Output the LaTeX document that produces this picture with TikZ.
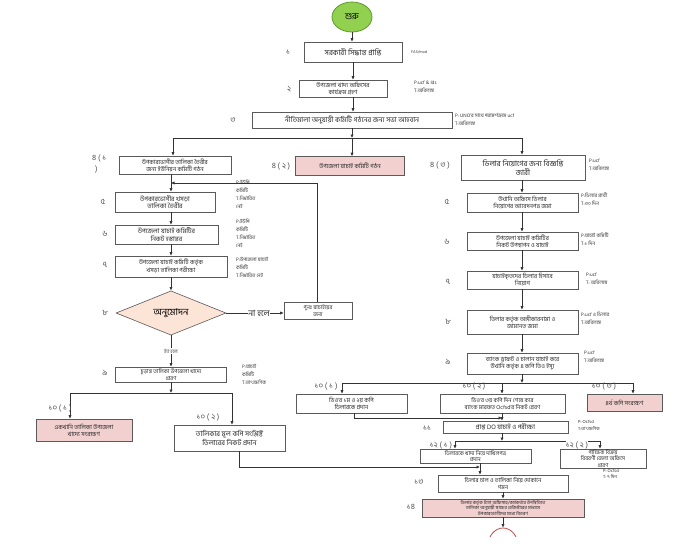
\documentclass[tikz,border=0pt]{standalone}
\usepackage{fontspec}
\newfontfamily\bn[Script=Bengali]{Hind Siliguri}
\usetikzlibrary{arrows.meta,shapes.geometric}
\definecolor{bord}{HTML}{5A5A5A}
\definecolor{pinkf}{HTML}{F2D0D0}
\definecolor{peach}{HTML}{FCE4D6}
\definecolor{grn}{HTML}{92D050}
\definecolor{grnd}{HTML}{5E9A2C}
\definecolor{lbl}{HTML}{505050}
\definecolor{endc}{HTML}{C0504D}
\begin{document}
\begin{tikzpicture}[x=1pt,y=-1pt,
  box/.style={draw=bord, line width=0.6pt, fill=white, align=center, inner sep=0.5pt, text=black!85, font=\bn\fontsize{6}{7}\selectfont},
  pbox/.style={box, fill=pinkf},
  sz/.style 2 args={minimum width=#1, minimum height=#2},
  note/.style={font=\bn\fontsize{5}{8}\selectfont, align=left, anchor=north west, inner sep=0, text=black!80},
  num/.style={font=\bn\fontsize{8}{8}\selectfont, text=lbl, inner sep=0},
  arr/.style={-{Latex[length=3.5pt,width=3.2pt]}, line width=0.6pt, draw=black!80},
  ln/.style={line width=0.6pt, draw=black!80}]
\useasboundingbox (0,0) rectangle (695,557);
\fill[white] (0,0) rectangle (695,557);

% start
\node[ellipse, draw=grnd, fill=grn, line width=0.8pt, minimum width=40, minimum height=30, inner sep=0, font=\bn\fontsize{9}{9}\selectfont] (start) at (352,17) {শুরু};

% top chain
\node[box, sz={98}{20}, font=\bn\fontsize{7.5}{8}\selectfont] (b1) at (353,52) {সরকারী সিদ্ধান্ত প্রাপ্তি};
\node[box, sz={88}{17}] (b2) at (343,88.5) {উপজেলা খাদ্য অফিসের\\কার্যক্রম গ্রহণ};
\node[box, sz={200}{16}, font=\bn\fontsize{7}{8}\selectfont] (b3) at (352,120) {নীতিমালা অনুযায়ী কমিটি গঠনের জন্য সভা আহবান};

\node[box, sz={112}{18}] (b41) at (175,165) {উপকারভোগীর তালিকা তৈরীর\\জন্য ইউনিয়ন কমিটি গঠন};
\node[pbox, sz={109}{19}] (b42) at (350,166) {উপজেলা যাচাই কমিটি গঠন};
\node[box, sz={124}{25}, font=\bn\fontsize{7.5}{9}\selectfont] (b43) at (523,167.5) {ডিলার নিয়োগের জন্য বিজ্ঞপ্তি\\জারী};

% left column
\node[box, sz={100}{20}, font=\bn\fontsize{6.5}{7.5}\selectfont] (b5) at (165,202) {উপকারভোগীর খসড়া\\তালিকা তৈরীর};
\node[box, sz={103}{19}, font=\bn\fontsize{6.5}{7.5}\selectfont] (b6) at (166.5,234.5) {উপজেলা যাচাই কমিটির\\নিকট হস্তান্তর};
\node[box, sz={112}{21}] (b7) at (171,266.5) {উপজেলা যাচাই কমিটি কর্তৃক\\খসড়া তালিকা পরীক্ষা};
\node[diamond, draw=bord, fill=peach, line width=0.6pt, minimum width=110, minimum height=42, inner sep=0, font=\bn\fontsize{9.5}{10}\selectfont] (d8) at (171,313) {অনুমোদন};
\node[font=\bn\fontsize{8.5}{9}\selectfont, inner sep=0, text=black!85] (nh) at (259,313) {না হলে};
\node[box, sz={68}{17}, font=\bn\fontsize{5.5}{6.5}\selectfont] (rb) at (318,310.5) {পুনঃ যাচাইয়ের\\জন্য};
\node[box, sz={111}{15}, font=\bn\fontsize{5.5}{6.3}\selectfont] (b9) at (171,374.5) {চূড়ান্ত তালিকা উপজেলা খাদ্যে\\প্রেরণ};
\node[pbox, sz={96}{22}] (b101) at (84,430) {একখানি তালিকা উপজেলা\\খাদ্যে সংরক্ষণ};
\node[box, sz={111}{26}, font=\bn\fontsize{7}{9}\selectfont] (b102) at (229.5,438) {তালিকার মূল কপি সংশ্লিষ্ট\\ডিলারের নিকট প্রদান};

% right column
\node[box, sz={111}{19}] (b5r) at (522.5,202.5) {উখানি অফিসে ডিলার\\নিয়োগের আবেদনপত্র জমা};
\node[box, sz={111}{18}] (b6r) at (522.5,241) {উপজেলা যাচাই কমিটির\\নিকট উপস্থাপন ও যাচাই};
\node[box, sz={111}{18}] (b7r) at (522.5,280) {যাচাইকৃতদের ডিলার হিসাবে\\নিয়োগ};
\node[box, sz={111}{24}] (b8r) at (522.5,322) {ডিলার কর্তৃক অঙ্গীকারনামা ও\\জামানত জমা};
\node[box, sz={111}{21}] (b9r) at (522.5,363.5) {ব্যাংক ড্রাফট ও চালান যাচাই করে\\উখানি কর্তৃক ৪ কপি ডিও ইস্যু};
\node[box, sz={111}{19}] (b101r) at (351.5,403.5) {ডিও'র ১ম ও ২য় কপি\\ডিলারকে প্রদান};
\node[box, sz={125}{19}, font=\bn\fontsize{5.7}{7}\selectfont] (b102r) at (502.5,403.5) {ডিও'র ৩য় কপি দিন শেষে করে\\ব্যাংক মারফত Ocfsd'র নিকট প্রেরণ};
\node[pbox, sz={75}{17}] (b103) at (624.5,402.5) {৪র্থ কপি সংরক্ষণ};
\node[box, sz={125}{12}, font=\bn\fontsize{6.5}{7}\selectfont] (b11) at (505.5,427) {প্রাপ্ত DO যাচাই ও পরীক্ষা};
\node[box, sz={111}{14}, font=\bn\fontsize{5.5}{6}\selectfont] (b121) at (475.5,456) {ডিলারকে খাদ্য নিয়ে দাখিলপত্র\\প্রদান};
\node[box, sz={86}{19}, font=\bn\fontsize{5.5}{6.5}\selectfont] (b122) at (603,458.5) {পাক্ষিক বিক্রয়\\বিবরণী জেলা অফিসে\\প্রেরণ};
\node[box, sz={130}{17}, font=\bn\fontsize{5.8}{6.8}\selectfont] (b13) at (503,483.5) {ডিলার চাল ও তালিকা নিয়ে দোকানে\\গমন};
\node[pbox, sz={162}{18}, font=\bn\fontsize{4.6}{5.6}\selectfont] (b14) at (503,508) {ডিলার কর্তৃক ট্যাগ অফিসার/কর্মকর্তার উপস্থিতিতে\\তালিকা অনুযায়ী স্বাক্ষর রেজিস্টারের মাধ্যমে\\উপকারভোগীদের মধ্যে বিতরণ};

% end (cut off)
\begin{scope}
\clip (480,520) rectangle (530,536);
\node[ellipse, draw=endc, line width=0.8pt, minimum width=30, minimum height=36, inner sep=0] (fin) at (503,546) {};
\end{scope}

% coordinates
\coordinate (cl) at (171,0);
\coordinate (cr) at (522,0);
\coordinate (cm) at (502,0);
\coordinate (j3) at (352,138);
\coordinate (j3l) at (173,138);
\coordinate (j3r) at (522,138);
\coordinate (fb) at (317,183);
\coordinate (j9) at (171,393);
\coordinate (j9l) at (70,393);
\coordinate (j9r) at (232,393);
\coordinate (k1) at (239,467);
\coordinate (v13) at (480,0);
\coordinate (jr9) at (522,383);
\coordinate (jr9l) at (342,383);
\coordinate (jr9r) at (633,383);
\coordinate (m1) at (354,418);
\coordinate (j11) at (502,441);
\coordinate (j11l) at (455,441);
\coordinate (j11r) at (600,441);

% connectors top
\draw[arr] (start.south) -- (start.south |- b1.north);
\draw[arr] (b1.south) -- (b1.south |- b2.north);
\draw[arr] (b2.south -| b1.south) -- (b1.south |- b3.north);
\draw[arr] (b3.south) -- (j3);
\draw[ln] (j3l) -- (j3r);
\draw[arr] (j3) -- (j3 |- b42.north);
\draw[arr] (j3l) -- (j3l |- b41.north);
\draw[arr] (j3r) -- (j3r |- b43.north);

% left column connectors
\draw[arr] (b41.south -| cl) -- (cl |- b5.north);
\draw[arr] (b5.south -| cl) -- (cl |- b6.north);
\draw[arr] (b6.south -| cl) -- (cl |- b7.north);
\draw[arr] (b7.south -| cl) -- (cl |- d8.north);
\draw[ln] (d8.east) -- (nh.west);
\draw[arr] (nh.east) -- (nh.east -| rb.west);
\draw[arr] (rb.north -| fb) -- (fb) -- (fb -| cl);
\draw[arr] (d8.south) -- (d8.south |- b9.north) node[midway, fill=white, inner sep=1pt, font=\bn\fontsize{5}{5}\selectfont, text=black!80] {হ্যাঁ হলে};
\draw[arr] (b9.south) -- (j9);
\draw[ln] (j9l) -- (j9r);
\draw[arr] (j9l) -- (j9l |- b101.north);
\draw[arr] (j9r) -- (j9r |- b102.north);
\draw[arr] (b102.south -| k1) -- (k1) -- (k1 -| v13);

% right column connectors
\draw[arr] (b43.south -| cr) -- (cr |- b5r.north);
\draw[arr] (b5r.south -| cr) -- (cr |- b6r.north);
\draw[arr] (b6r.south -| cr) -- (cr |- b7r.north);
\draw[arr] (b7r.south -| cr) -- (cr |- b8r.north);
\draw[arr] (b8r.south -| cr) -- (cr |- b9r.north);
\draw[arr] (b9r.south -| cr) -- (jr9);
\draw[ln] (jr9l) -- (jr9r);
\draw[arr] (jr9l) -- (jr9l |- b101r.north);
\draw[arr] (jr9 -| cm) -- (cm |- b102r.north);
\draw[arr] (jr9r) -- (jr9r |- b103.north);
\draw[arr] (b101r.south -| m1) -- (m1) -- (m1 -| cm);
\draw[arr] (b102r.south -| cm) -- (cm |- b11.north);
\draw[arr] (b11.south -| cm) -- (j11);
\draw[ln] (j11l) -- (j11r);
\draw[arr] (j11l) -- (j11l |- b121.north);
\draw[arr] (j11r) -- (j11r |- b122.north);
\draw[arr] (b121.south -| v13) -- (v13 |- b13.north);
\draw[arr] (b13.south -| b14.north) -- (b14.north);
\draw[arr] (b14.south) -- (fin.north);

% step labels
\node[num] (l1) at (288,52) {১};
\node[num] (l2) at (289,89) {২};
\node[num] (l3) at (233,120) {৩};
\node[num, anchor=west, align=left, font=\bn\fontsize{8}{11}\selectfont] (l41) at (92,164) {৪ ( ১\\\hspace*{3pt})};
\node[num] (l42) at (281,166) {৪ ( ২ )};
\node[num] (l43) at (440,165) {৪ ( ৩ )};
\node[num] (l5) at (103,202) {৫};
\node[num] (l6) at (105,234) {৬};
\node[num] (l7) at (105,265) {৭};
\node[num] (l8) at (105,313) {৮};
\node[num] (l9) at (105,373) {৯};
\node[num] (l101) at (60,408) {১০ ( ১ )};
\node[num] (l102) at (208,417) {১০ ( ২ )};
\node[num] (l5r) at (447,202) {৫};
\node[num] (l6r) at (447,242) {৬};
\node[num] (l7r) at (448,282) {৭};
\node[num] (l8r) at (448,322) {৮};
\node[num] (l9r) at (448,362) {৯};
\node[num] (l101r) at (326,386) {১০ ( ১ )};
\node[num] (l102r) at (474,386) {১০ ( ২ )};
\node[num] (l103) at (604,386) {১০ ( ৩ )};
\node[num] (l11) at (427,428) {১১};
\node[num, fill=white, inner sep=0.3pt] (l121) at (441,445) {১২ ( ১ )};
\node[num, fill=white, inner sep=0.3pt] (l122) at (577,445) {১২ ( ২ )};
\node[num] (l13) at (419,482) {১৩};
\node[num] (l14) at (411,507) {১৪};

% notes
\node[note, anchor=west, font=\bn\fontsize{4}{5}\selectfont] (n1) at (411,52) {FAS/mod};
\node[note] (n2) at (414,81) {P:ucf \& lds\\T:অবিলম্বে};
\node[note] (n3) at (455,113) {P: UNO'র সাথে পরামর্শক্রমে ucf\\T:অবিলম্বে};
\node[note] (n43) at (589,159) {P:ucf\\T:অবিলম্বে};
\node[note] (n5) at (236,180) {P:ইউপি\\কমিটি\\T:নির্ধারিত\\নেই};
\node[note] (n6) at (236,219) {P:ইউপি\\কমিটি\\T:নির্ধারিত\\নেই};
\node[note] (n7) at (236,257) {P:উপজেলা যাচাই\\কমিটি\\T:নির্ধারিত নেই};
\node[note] (n9) at (242,364) {P:যাচাই\\কমিটি\\T:তাৎক্ষণিক};
\node[note] (n5r) at (581,193) {P:ডিলার প্রার্থী\\T:৩০ দিন};
\node[note] (n6r) at (581,233) {P:যাচাই কমিটি\\T:১ দিন};
\node[note] (n7r) at (586,273) {P:ucf\\T: অবিলম্বে};
\node[note] (n8r) at (581,312) {P:ucf ও ডিলার\\T:অবিলম্বে};
\node[note] (n9r) at (584,351) {P:ucf\\T:অবিলম্বে};
\node[note, font=\bn\fontsize{4.5}{7}\selectfont] (n11) at (578,420) {P: Ocfsd\\T:তাৎক্ষণিক};
\node[note, font=\bn\fontsize{4.5}{6.5}\selectfont] (n122) at (603,469) {P: Ocfsd\\T: ৭ দিন};
\end{tikzpicture}
\end{document}
